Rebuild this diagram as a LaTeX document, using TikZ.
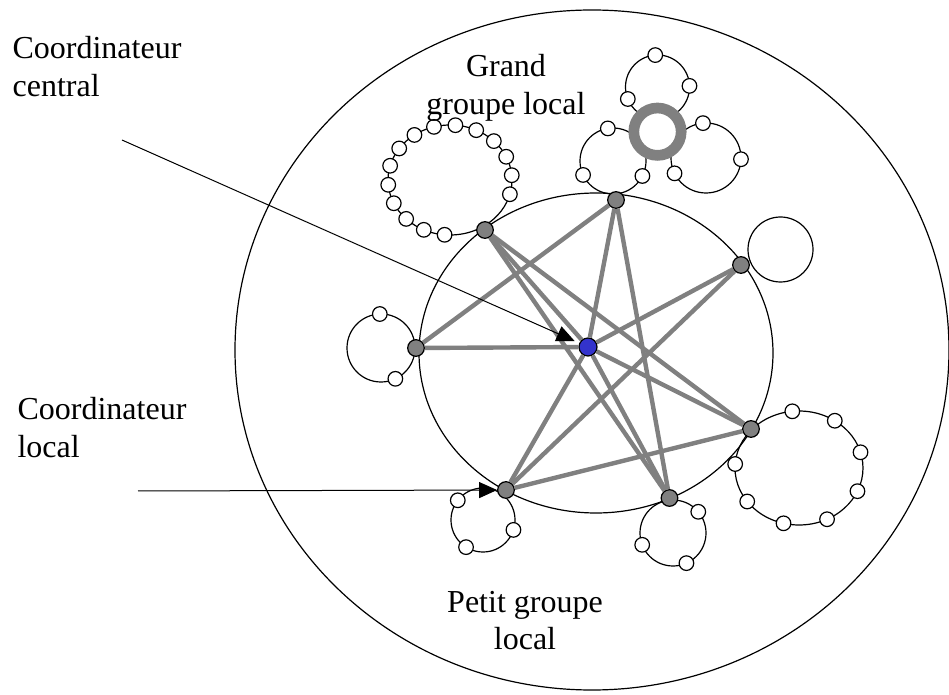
\documentclass[tikz,border=0pt]{standalone}
\usepackage{fontspec}
\setmainfont{Liberation Serif}
\usetikzlibrary{arrows.meta}
\definecolor{linkgray}{RGB}{128,128,128}
\definecolor{centralblue}{RGB}{51,51,204}

\begin{document}
\begin{tikzpicture}[
    x=0.5pt, y=-0.5pt,
    line width=0.6pt,
    member/.style={circle, draw, fill=white, inner sep=0pt, minimum size=7.3pt},
    localco/.style={circle, draw, fill=linkgray, inner sep=0pt, minimum size=8.3pt},
    centralco/.style={circle, draw, fill=centralblue, inner sep=0pt, minimum size=9pt},
    link/.style={draw=linkgray, line width=2.2pt},
    lbl/.style={font=\fontsize{16}{18.75}\selectfont, inner sep=0pt},
    pointer/.style={-{Triangle[length=9pt,width=8pt]}, line width=0.5pt}
  ]
  \useasboundingbox (0,0) rectangle (949,695);

  % outer area and inner area
  \draw (592,350) ellipse [x radius=178.5pt, y radius=170pt];
  \draw (596,353) ellipse [x radius=88.5pt, y radius=80pt];

  % rings of the local groups
  \draw (450,180) ellipse [x radius=31pt, y radius=27.5pt];
  \draw (799,468) ellipse [x radius=32pt, y radius=28.5pt];
  \draw (381,348) circle [radius=17pt];
  \draw (780.5,249.5) circle [radius=16.25pt];
  \draw (483,520) circle [radius=16pt];
  \draw (673,533) circle [radius=16.5pt];
  \draw (657.5,87) circle [radius=16pt];
  \draw (613,161) circle [radius=16.5pt];
  \draw (706,158) circle [radius=17.5pt];
  \draw[draw=linkgray, line width=5.35pt, fill=white] (657.5,131.7) circle [radius=11.85pt];

  % members
  \foreach \a in {95,115,...,375}
    \node[member] at ({450+62*cos(\a)},{180+55*sin(\a)}) {};
  \foreach \a in {264,304,...,544}
    \node[member] at ({799+64*cos(\a)},{468+57*sin(\a)}) {};
  \foreach \cx/\cy/\rr/\a in {381/348/34/268, 381/348/34/65,
      483/520/32/218, 483/520/32/122, 483/520/32/18,
      673/533/33/320, 673/533/33/159, 673/533/33/66,
      657.5/87/32/266, 657.5/87/32/358, 657.5/87/32/158,
      613/161/33/261, 613/161/33/155, 613/161/33/27,
      706/158/35/265, 706/158/35/2, 706/158/35/154}
    \node[member] at ({\cx+\rr*cos(\a)},{\cy+\rr*sin(\a)}) {};

  % coordinators
  \node[centralco] (cc) at (588,347) {};
  \node[localco] (cT) at (616,200) {};
  \node[localco] (cUR) at (741,265) {};
  \node[localco] (cR) at (751,429) {};
  \node[localco] (cBR) at (669.5,498) {};
  \node[localco] (cBL) at (506,490) {};
  \node[localco] (cL) at (416,348) {};
  \node[localco] (cUL) at (485,230) {};

  % links
  \foreach \n in {cT,cUR,cR,cBR,cBL,cL,cUL}
    \draw[link] (cc) -- (\n);
  \draw[link] (cT) -- (cL);
  \draw[link] (cT) -- (cBR);
  \draw[link] (cUL) -- (cR);
  \draw[link] (cUL) -- (cBR);
  \draw[link] (cUR) -- (cBL);
  \draw[link] (cR) -- (cBL);

  % labels
  \node[lbl, anchor=base west, align=left] (centraltext) at (12,96.5) {Coordinateur\\central};
  \node[lbl, anchor=base west, align=left] (localtext) at (17,457.5) {Coordinateur\\local};
  \node[lbl, anchor=base, align=center] (bigtext) at (506,114.5) {Grand\\groupe local};
  \node[lbl, anchor=base, align=center] (smalltext) at (525,649.5) {Petit groupe\\local};

  \coordinate (centralfrom) at (122,140);
  \coordinate (localfrom) at (138,491);
  \draw[pointer, shorten >=2.5pt] (centralfrom) -- (cc);
  \draw[pointer] (localfrom) -- (cBL);
\end{tikzpicture}
\end{document}
